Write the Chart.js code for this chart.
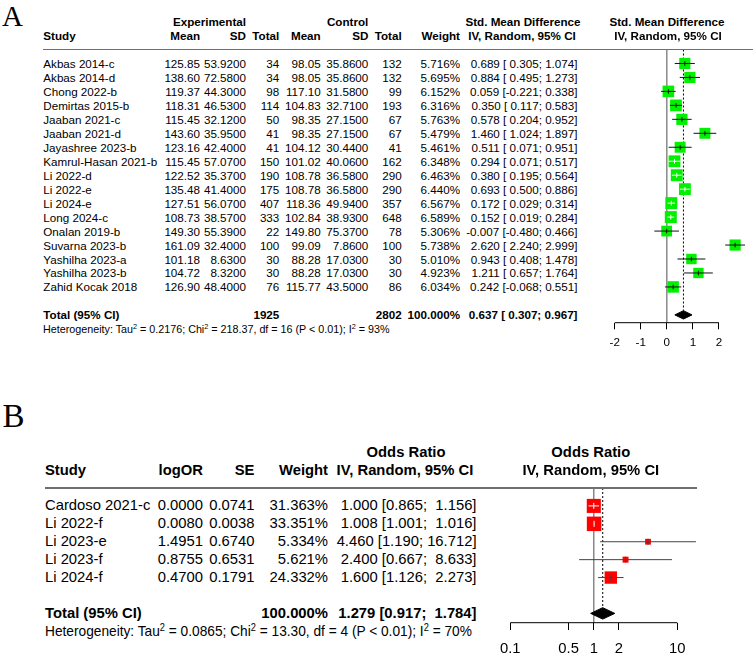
<!DOCTYPE html>
<html><head><meta charset="utf-8">
<script src="https://cdn.jsdelivr.net/npm/chart.js@4.4.1/dist/chart.umd.min.js"></script>
<style>
html,body{margin:0;padding:0;background:#fff;overflow:hidden;width:753px;height:655px;}
#page{position:relative;width:753px;height:655px;overflow:hidden;font-family:"Liberation Sans",Arial,Helvetica,sans-serif;color:#000;}
.t{position:absolute;white-space:pre;}
.t sup{font-size:0.68em;position:relative;top:-0.5em;line-height:0;vertical-align:baseline;}
canvas{position:absolute;}
.rule{position:absolute;height:1.3px;background:#707070;}
</style></head><body><div id="page">
<canvas id="cA" width="153" height="330"></canvas>
<canvas id="cB" width="220" height="200"></canvas>
</div>
<script>
// ---------------- Panel A data ----------------
const studiesA = ["Akbas 2014-c","Akbas 2014-d","Chong 2022-b","Demirtas 2015-b","Jaaban 2021-c","Jaaban 2021-d","Jayashree 2023-b","Kamrul-Hasan 2021-b","Li 2022-d","Li 2022-e","Li 2024-e","Long 2024-c","Onalan 2019-b","Suvarna 2023-b","Yashilha 2023-a","Yashilha 2023-b","Zahid Kocak 2018"];
const expMeanA = [125.85,138.60,119.37,118.31,115.45,143.60,123.16,115.45,122.52,135.48,127.51,108.73,149.30,161.09,101.18,104.72,126.90];
const expSDA = [53.92,72.58,44.30,46.53,32.12,35.95,42.40,57.07,35.37,41.40,56.07,38.57,55.39,32.40,8.63,8.32,48.40];
const expTotalA = [34,34,98,114,50,41,41,150,190,175,407,333,22,100,30,30,76];
const ctlMeanA = [98.05,98.05,117.10,104.83,98.35,98.35,104.12,101.02,108.78,108.78,118.36,102.84,149.80,99.09,88.28,88.28,115.77];
const ctlSDA = [35.86,35.86,31.58,32.71,27.15,27.15,30.44,40.06,36.58,36.58,49.94,38.93,75.37,7.86,17.03,17.03,43.50];
const ctlTotalA = [132,132,99,193,67,67,41,162,290,290,357,648,78,100,30,30,86];
const weightA = [5.716,5.695,6.152,6.316,5.763,5.479,5.461,6.348,6.463,6.440,6.567,6.589,5.306,5.738,5.010,4.923,6.034];
const smdA = [0.689,0.884,0.059,0.350,0.578,1.460,0.511,0.294,0.380,0.693,0.172,0.152,-0.007,2.620,0.943,1.211,0.242];
const smdLoA = [0.305,0.495,-0.221,0.117,0.204,1.024,0.071,0.071,0.195,0.500,0.029,0.019,-0.480,2.240,0.408,0.657,-0.068];
const smdHiA = [1.074,1.273,0.338,0.583,0.952,1.897,0.951,0.517,0.564,0.886,0.314,0.284,0.466,2.999,1.478,1.764,0.551];
const totalsA = [1925, 2802];
const pooledA = [0.637, 0.307, 0.967];
const hetA = ["0.2176", "218.37", "16", "0.01", "93%"];
const ticksA = [-2,-1,0,1,2];

// ---------------- Panel B data ----------------
const studiesB = ["Cardoso 2021-c","Li 2022-f","Li 2023-e","Li 2023-f","Li 2024-f"];
const logOrB = [0.0000,0.0080,1.4951,0.8755,0.4700];
const seB = [0.0741,0.0038,0.6740,0.6531,0.1791];
const weightB = [31.363,33.351,5.334,5.621,24.332];
const orB = [1.000,1.008,4.460,2.400,1.600];
const orLoB = [0.865,1.001,1.190,0.667,1.126];
const orHiB = [1.156,1.016,16.712,8.633,2.273];
const pooledB = [1.279, 0.917, 1.784];
const hetB = ["0.0865", "13.30", "4", "0.01", "70%"];
const ticksB = [0.1,0.5,1,2,10];

// ---------------- helpers ----------------
const FONT = '"Liberation Sans", Arial, Helvetica, sans-serif';
const SERIF = '"Liberation Serif","Times New Roman",serif';
const page = document.getElementById('page');
function txt(s, x, y, align, fs, bold, opt) {
  opt = opt || {};
  const d = document.createElement('div');
  d.className = 't';
  const lh = opt.lh || Math.round(fs * 1.25);
  d.style.fontSize = fs + 'px';
  d.style.lineHeight = lh + 'px';
  d.style.top = (y - lh / 2) + 'px';
  if (bold) d.style.fontWeight = 'bold';
  if (opt.family) d.style.fontFamily = opt.family;
  if (align === 'right') d.style.right = (753 - x) + 'px';
  else if (align === 'center') { d.style.left = x + 'px'; d.style.transform = 'translateX(-50%)'; }
  else d.style.left = x + 'px';
  if (opt.html) d.innerHTML = s; else d.textContent = s;
  page.appendChild(d);
  if (opt.width) {
    const w = d.offsetWidth;
    d.style.transformOrigin = 'left center';
    d.style.transform = 'scaleX(' + (opt.width / w) + ')';
  }
  return d;
}
function rule(x1, x2, y) {
  const d = document.createElement('div');
  d.className = 'rule';
  d.style.left = x1 + 'px'; d.style.width = (x2 - x1) + 'px'; d.style.top = (y - 0.65) + 'px';
  page.appendChild(d);
}
function padL(s, n) { return s.padStart(n, ' '); }

function makeForest(p) {
  const canvas = document.getElementById(p.id);
  canvas.style.left = p.cLeft + 'px'; canvas.style.top = p.cTop + 'px';
  const n = p.est.length;
  const maxW = Math.max(...p.w);
  const sizes = p.w.map(w => p.maxSq * Math.sqrt(w / maxW));
  const ds = [];
  ds.push({data:[{x:p.nullVal,y:p.yMin},{x:p.nullVal,y:p.yMax}], showLine:true, borderColor:'#777777', borderWidth:1.3, pointRadius:0, order:30, clip:false});
  ds.push({data:[{x:p.pooled[0],y:p.yMin},{x:p.pooled[0],y:p.totalRow - p.diaH}], showLine:true, borderColor:'#000', borderWidth:1, borderDash:[2,2], pointRadius:0, order:29, clip:false});
  ds.push({data:p.est.map((v,i)=>({x:v,y:i})), pointStyle:'rect', pointRadius:sizes.map(s=>s/Math.SQRT2), pointBackgroundColor:p.sqColor, pointBorderColor:p.sqColor, pointBorderWidth:0, showLine:false, order:28, clip:false});
  for (let i = 0; i < n; i++) {
    ds.push({data:[{x:p.lo[i],y:i},{x:p.hi[i],y:i}], showLine:true, borderColor:p.ciColor, borderWidth:1, pointRadius:0, order:27, clip:false});
  }
  ds.push({data:p.est.map((v,i)=>({x:v,y:i})), pointStyle:'line', pointRotation:90, pointRadius:p.tickR, pointBorderColor:p.est.map(()=>p.ciColor), pointBorderWidth:1, showLine:false, order:26, clip:false});
  const r = p.totalRow, h = p.diaH;
  ds.push({data:[{x:p.pooled[1],y:r},{x:p.pooled[0],y:r-h},{x:p.pooled[2],y:r},{x:p.pooled[0],y:r+h},{x:p.pooled[1],y:r}], showLine:true, fill:'shape', backgroundColor:'#000', borderColor:'#000', borderWidth:1, pointRadius:0, order:25, clip:false, tension:0});
  // axis line spanning only the tick range
  const t0 = p.ticks[0], t1 = p.ticks[p.ticks.length - 1];
  ds.push({data:[{x:t0,y:p.yMax},{x:t1,y:p.yMax}], showLine:true, borderColor:'#000', borderWidth:1, pointRadius:0, order:24, clip:false});

  const chart = new Chart(canvas, {
    type: 'scatter',
    data: { datasets: ds },
    options: {
      responsive:false, animation:false, events:[],
      layout:{ padding:{ left:p.pad[0], right:p.pad[1], top:p.pad[2], bottom:p.pad[3] } },
      plugins:{ legend:{display:false}, tooltip:{enabled:false} },
      scales:{
        x:{ type:p.xType, min:p.xMin, max:p.xMax,
            afterBuildTicks:(s)=>{ s.ticks = p.ticks.map(v=>({value:v})); },
            ticks:{ autoSkip:false, maxRotation:0, minRotation:0, padding:p.tickPad, color:'#000',
                    font:{family:FONT, size:p.fs}, callback:(v)=>String(v) },
            grid:{ display:true, drawOnChartArea:false, drawTicks:true, tickLength:p.tickLen, color:'#000', lineWidth:1 },
            border:{ display:false } },
        y:{ type:'linear', min:p.yMin, max:p.yMax, reverse:true, display:false }
      }
    }
  });
  // fit the plotting area onto the target rectangle
  const pad = chart.options.layout.padding;
  for (let k = 0; k < 4; k++) {
    const a = chart.chartArea;
    pad.left += (p.area.left - p.cLeft) - a.left;
    pad.top += (p.area.top - p.cTop) - a.top;
    pad.right += a.right - (p.area.right - p.cLeft);
    pad.bottom += a.bottom - (p.area.bottom - p.cTop);
    chart.update('none');
  }
  // white marks when the CI lies inside the square
  const xs = chart.scales.x;
  const tickDs = ds[3 + n];
  for (let i = 0; i < n; i++) {
    const c = xs.getPixelForValue(p.est[i]), hs = sizes[i] / 2;
    const inside = xs.getPixelForValue(p.lo[i]) >= c - hs && xs.getPixelForValue(p.hi[i]) <= c + hs;
    const col = inside ? '#ffffff' : p.ciColor;
    ds[3 + i].borderColor = col;
    tickDs.pointBorderColor[i] = col;
  }
  chart.update('none');
  return chart;
}

// ---------------- Panel A ----------------
const cfgA = { id:'cA', cLeft:600, cTop:40, area:{left:614.7,right:752,top:49.5,bottom:322.7},
  est:smdA, lo:smdLoA, hi:smdHiA, w:weightA, maxSq:12, sqColor:'#00f000', ciColor:'#111111', tickR:2.3,
  pooled:pooledA, nullVal:0, yMin:-1, yMax:18.56, totalRow:18, diaH:0.3,
  xType:'linear', xMin:-2, xMax:2.98, ticks:ticksA, fs:11.65, tickPad:7, tickLen:6.6, pad:[14.7,1,9.5,19] };
const chartA = makeForest(cfgA);
const yA = i => cfgA.cTop + chartA.scales.y.getPixelForValue(i);
const fA = 11.65;

txt('A', 2, 16, 'left', 29, false, {family:SERIF, lh:29});
txt('Experimental', 246, yA(-3), 'right', fA, true);
txt('Control', 368.3, yA(-3), 'right', fA, true);
txt('Std. Mean Difference', 523, yA(-3), 'center', fA, true);
txt('Std. Mean Difference', 667, yA(-3), 'center', fA, true);
txt('Study', 43.3, yA(-2), 'left', fA, true);
txt('Mean', 200, yA(-2), 'right', fA, true);
txt('SD', 246, yA(-2), 'right', fA, true);
txt('Total', 279.3, yA(-2), 'right', fA, true);
txt('Mean', 320.7, yA(-2), 'right', fA, true);
txt('SD', 368.3, yA(-2), 'right', fA, true);
txt('Total', 401.7, yA(-2), 'right', fA, true);
txt('Weight', 460, yA(-2), 'right', fA, true);
txt('IV, Random, 95% CI', 522, yA(-2), 'center', fA, true);
txt('IV, Random, 95% CI', 668, yA(-2), 'center', fA, true);
rule(43.3, 753, yA(-1));

const loStrA = smdLoA.map(v => padL(v.toFixed(3), 6));
const hiStrA = smdHiA.map(v => padL(v.toFixed(3), 5));
studiesA.forEach((s, i) => {
  const y = yA(i);
  txt(s, 43.3, y, 'left', fA, false);
  txt(expMeanA[i].toFixed(2), 200, y, 'right', fA, false);
  txt(expSDA[i].toFixed(4), 246, y, 'right', fA, false);
  txt(String(expTotalA[i]), 279.3, y, 'right', fA, false);
  txt(ctlMeanA[i].toFixed(2), 320.7, y, 'right', fA, false);
  txt(ctlSDA[i].toFixed(4), 368.3, y, 'right', fA, false);
  txt(String(ctlTotalA[i]), 401.7, y, 'right', fA, false);
  txt(weightA[i].toFixed(3) + '%', 460, y, 'right', fA, false);
  txt(smdA[i].toFixed(3) + ' [' + loStrA[i] + '; ' + hiStrA[i] + ']', 577.5, y, 'right', fA, false);
});
const yTA = yA(18);
txt('Total (95% CI)', 43.3, yTA, 'left', fA, true);
txt(String(totalsA[0]), 279.3, yTA, 'right', fA, true);
txt(String(totalsA[1]), 401.7, yTA, 'right', fA, true);
txt('100.000%', 460, yTA, 'right', fA, true);
txt(pooledA[0].toFixed(3) + ' [' + padL(pooledA[1].toFixed(3),6) + '; ' + pooledA[2].toFixed(3) + ']', 577.5, yTA, 'right', fA, true);
txt('Heterogeneity: Tau<sup>2</sup> = ' + hetA[0] + '; Chi<sup>2</sup> = ' + hetA[1] + ', df = ' + hetA[2] + ' (P &lt; ' + hetA[3] + '); I<sup>2</sup> = ' + hetA[4],
    43.3, yA(19), 'left', fA, false, {html:true, width:347});

// ---------------- Panel B ----------------
const cfgB = { id:'cB', cLeft:490, cTop:470, area:{left:504.3,right:677.3,top:488,bottom:622.7},
  est:orB, lo:orLoB, hi:orHiB, w:weightB, maxSq:14.5, sqColor:'#ff0000', ciColor:'#444444', tickR:3,
  pooled:pooledB, nullVal:1, yMin:-1, yMax:6.52, totalRow:6, diaH:0.32,
  xType:'logarithmic', xMin:0.1, xMax:10, ticks:ticksB, fs:14.8, tickPad:10, tickLen:7.3, pad:[14.3,32.7,18,11] };
const chartB = makeForest(cfgB);
const yB = i => cfgB.cTop + chartB.scales.y.getPixelForValue(i);
const fB = 14.8;

txt('B', 2.5, 415.8, 'left', 33, false, {family:SERIF, lh:30});
txt('Odds Ratio', 406, yB(-3), 'center', fB, true);
txt('Odds Ratio', 590.8, yB(-3), 'center', fB, true);
txt('Study', 45, yB(-2), 'left', fB, true);
txt('logOR', 203, yB(-2), 'right', fB, true);
txt('SE', 254.5, yB(-2), 'right', fB, true);
txt('Weight', 328, yB(-2), 'right', fB, true);
txt('IV, Random, 95% CI', 405, yB(-2), 'center', fB, true);
txt('IV, Random, 95% CI', 590.8, yB(-2), 'center', fB, true);
rule(45, 697, yB(-1));

const loStrB = orLoB.map(v => v.toFixed(3));
const hiStrB = orHiB.map(v => padL(v.toFixed(3), 6));
studiesB.forEach((s, i) => {
  const y = yB(i);
  txt(s, 45, y, 'left', fB, false);
  txt(logOrB[i].toFixed(4), 203, y, 'right', fB, false);
  txt(seB[i].toFixed(4), 254.5, y, 'right', fB, false);
  txt(weightB[i].toFixed(3) + '%', 328, y, 'right', fB, false);
  txt(orB[i].toFixed(3) + ' [' + loStrB[i] + '; ' + hiStrB[i] + ']', 476.5, y, 'right', fB, false);
});
const yTB = yB(6);
txt('Total (95% CI)', 45, yTB, 'left', fB, true);
txt('100.000%', 328, yTB, 'right', fB, true);
txt(pooledB[0].toFixed(3) + ' [' + pooledB[1].toFixed(3) + '; ' + padL(pooledB[2].toFixed(3),6) + ']', 476.5, yTB, 'right', fB, true);
txt('Heterogeneity: Tau<sup>2</sup> = ' + hetB[0] + '; Chi<sup>2</sup> = ' + hetB[1] + ', df = ' + hetB[2] + ' (P &lt; ' + hetB[3] + '); I<sup>2</sup> = ' + hetB[4],
    45, yB(7), 'left', fB, false, {html:true, width:427});
</script>
</body></html>
